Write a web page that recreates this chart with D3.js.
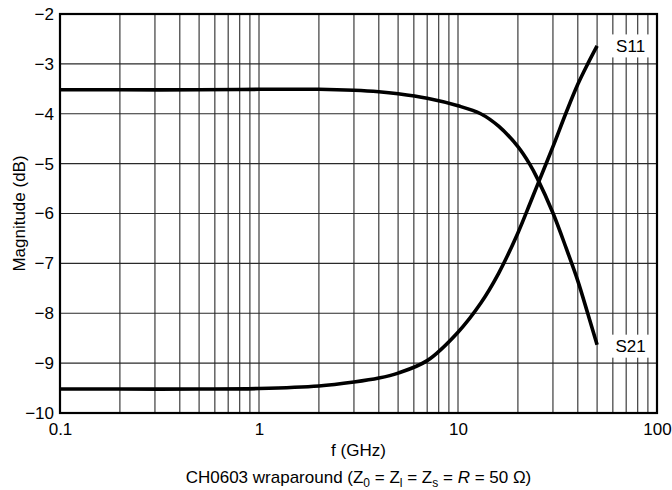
<!DOCTYPE html>
<html>
<head>
<meta charset="utf-8">
<script src="https://cdn.jsdelivr.net/npm/d3@7"></script>
<style>
  body { margin: 0; background: #fff; }
  svg { font-family: "Liberation Sans", Arial, Helvetica, sans-serif; }
</style>
</head>
<body>
<div id="chart"></div>
<script>
// Frequencies (GHz)
var freq = [0.1, 0.2, 0.5, 1, 2, 3, 4, 5, 7, 10, 13, 16, 20, 23, 25, 30, 35, 40, 45, 50];
// S21 magnitude (dB)
var s21 = [-3.52, -3.52, -3.52, -3.51, -3.51, -3.53, -3.56, -3.6, -3.69, -3.84,
           -4.0, -4.25, -4.66, -5.02, -5.29, -5.99, -6.7, -7.35, -8.02, -8.63];
// S11 magnitude (dB)
var s11 = [-9.52, -9.52, -9.52, -9.51, -9.46, -9.38, -9.3, -9.2, -8.95, -8.38,
           -7.8, -7.2, -6.39, -5.8, -5.44, -4.66, -3.97, -3.41, -2.99, -2.64];
var xTicks = [0.1, 1, 10, 100];
var yTicks = [-10, -9, -8, -7, -6, -5, -4, -3, -2];

var width = 672, height = 490;
var margin = {top: 14, right: 15, bottom: 77, left: 60};

var svg = d3.select("#chart")
	.append("svg")
	.attr("width", width)
	.attr("height", height);

var x = d3.scaleLog().domain([0.1, 100]).range([margin.left, width - margin.right]);
var y = d3.scaleLinear().domain([-10, -2]).range([height - margin.bottom, margin.top]);

// minor grid for the log axis
var gridX = [];
[0.1, 1, 10].forEach(function(d) {
	for (var k = 2; k <= 10; k++) gridX.push(d * k);
});
gridX = gridX.filter(function(d) { return d < 99; });

var grid = svg.append("g").attr("stroke", "#2a2a2a").attr("stroke-width", 1.1);
grid.selectAll("line.v")
	.data(gridX)
	.enter().append("line")
	.attr("class", "v")
	.attr("x1", function(d) { return x(d); })
	.attr("x2", function(d) { return x(d); })
	.attr("y1", y(-2))
	.attr("y2", y(-10));
grid.selectAll("line.h")
	.data(yTicks.slice(1, -1))
	.enter().append("line")
	.attr("class", "h")
	.attr("x1", x(0.1))
	.attr("x2", x(100))
	.attr("y1", function(d) { return y(d); })
	.attr("y2", function(d) { return y(d); });

// curves
var line = d3.line()
	.x(function(d) { return x(d[0]); })
	.y(function(d) { return y(d[1]); })
	.curve(d3.curveCatmullRom.alpha(0.5));

[s21, s11].forEach(function(series) {
	svg.append("path")
		.attr("fill", "none")
		.attr("stroke", "#000")
		.attr("stroke-width", 3.6)
		.attr("d", line(freq.map(function(f, i) { return [f, series[i]]; })));
});

// curve labels on white boxes
var labels = [{name: "S11", v: s11[s11.length - 1], dy: 0}, {name: "S21", v: s21[s21.length - 1], dy: 1.5}];
labels.forEach(function(l) {
	var cx = x(freq[freq.length - 1]) + 33.5;
	var cy = y(l.v) + l.dy;
	svg.append("rect")
		.attr("x", cx - 19.5).attr("y", cy - 11.5)
		.attr("width", 39).attr("height", 23)
		.attr("fill", "#fff");
	svg.append("text")
		.attr("x", cx).attr("y", cy + 6)
		.attr("text-anchor", "middle")
		.attr("font-size", 17)
		.text(l.name);
});

// frame
svg.append("rect")
	.attr("x", x(0.1)).attr("y", y(-2))
	.attr("width", x(100) - x(0.1))
	.attr("height", y(-10) - y(-2))
	.attr("fill", "none")
	.attr("stroke", "#000")
	.attr("stroke-width", 2.2);

// axes
var xAxis = d3.axisBottom(x).tickValues(xTicks).tickSize(0).tickPadding(10)
	.tickFormat(function(d) { return String(d); });
var yAxis = d3.axisLeft(y).tickValues(yTicks).tickSize(0).tickPadding(6);

svg.append("g")
	.attr("transform", "translate(0," + y(-10) + ")")
	.call(xAxis)
	.call(function(g) { g.select(".domain").remove(); })
	.selectAll("text").attr("font-size", 17).attr("fill", "#000")
	.attr("font-family", "Liberation Sans, Arial, sans-serif");

svg.append("g")
	.attr("transform", "translate(" + x(0.1) + ",0)")
	.call(yAxis)
	.call(function(g) { g.select(".domain").remove(); })
	.selectAll("text").attr("font-size", 17).attr("fill", "#000")
	.attr("font-family", "Liberation Sans, Arial, sans-serif");

// titles
svg.append("text")
	.attr("x", (x(0.1) + x(100)) / 2).attr("y", 456)
	.attr("text-anchor", "middle")
	.attr("font-size", 17)
	.text("f (GHz)");

svg.append("text")
	.attr("transform", "translate(25," + (y(-6)) + ") rotate(-90)")
	.attr("text-anchor", "middle")
	.attr("font-size", 17)
	.text("Magnitude (dB)");

var cap = svg.append("text")
	.attr("x", (x(0.1) + x(100)) / 2).attr("y", 483)
	.attr("text-anchor", "middle")
	.attr("font-size", 17);
cap.append("tspan").text("CH0603 wraparound (Z");
cap.append("tspan").attr("dy", 4).attr("font-size", 12).text("0");
cap.append("tspan").attr("dy", -4).text(" = Z");
cap.append("tspan").attr("dy", 4).attr("font-size", 12).text("l");
cap.append("tspan").attr("dy", -4).text(" = Z");
cap.append("tspan").attr("dy", 4).attr("font-size", 12).text("s");
cap.append("tspan").attr("dy", -4).text(" = ");
cap.append("tspan").attr("font-style", "italic").text("R");
cap.append("tspan").text(" = 50 \u03A9)");
</script>
</body>
</html>
